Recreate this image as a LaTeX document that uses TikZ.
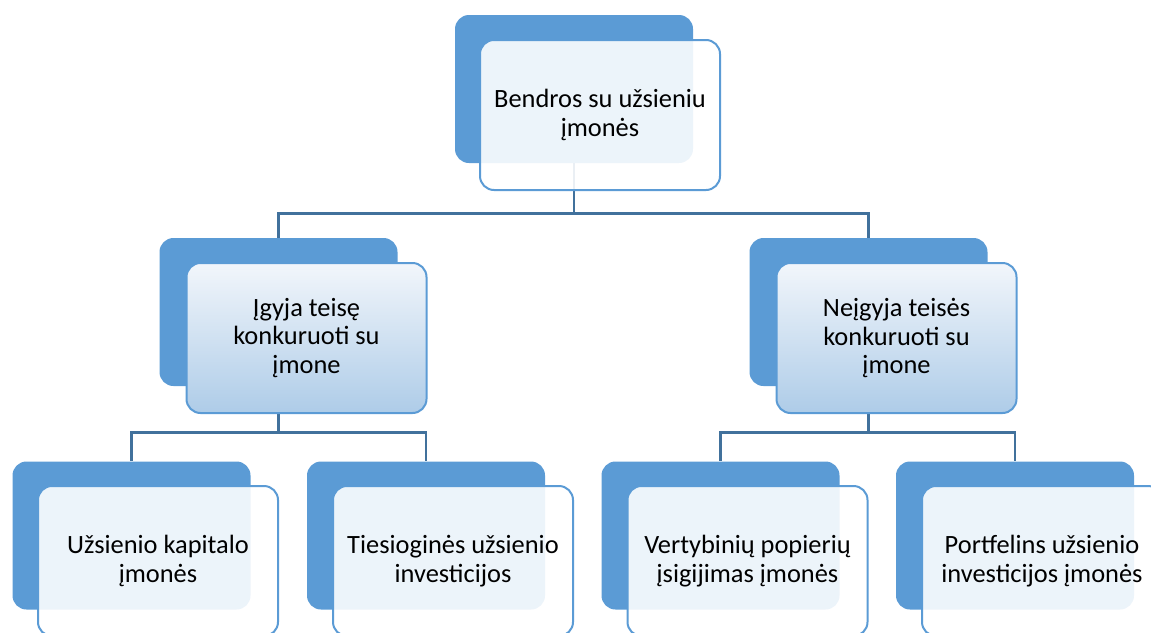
\documentclass[tikz,border=0pt]{standalone}
\usepackage{fontspec}
\setmainfont{Carlito}
\usetikzlibrary{positioning}
\definecolor{accblue}{HTML}{5B9BD5}
\definecolor{linkblue}{HTML}{41719C}
\definecolor{shadetop}{HTML}{F2F6FB}
\definecolor{shadebot}{HTML}{AECCE8}

\begin{document}
\begin{tikzpicture}[x=0.5pt,y=-0.5pt,
   back/.style={fill=accblue,rounded corners=7pt,minimum width=119pt,minimum height=74pt,inner sep=0pt},
   front/.style={draw=accblue,line width=1pt,rounded corners=7pt,minimum width=120pt,minimum height=75pt,inner sep=0pt,
     align=center,font=\fontsize{13.2}{14.3}\selectfont},
   pale/.style={front,fill=white,fill opacity=0.89,text opacity=1},
   shaded/.style={front,top color=shadetop,bottom color=shadebot},
   link/.style={linkblue,line width=1.3pt}]
   \useasboundingbox (0,0) rectangle (1151,632);
   % back boxes
   \node[back] (bk0) at (574,89) {};
   \node[back] (bk1) at (278.5,312) {};
   \node[back] (bk2) at (868.5,312) {};
   \node[back] (bk3) at (131.5,535.5) {};
   \node[back] (bk4) at (426,535.5) {};
   \node[back] (bk5) at (720.5,535.5) {};
   \node[back] (bk6) at (1015,535.5) {};
   % connectors
   \draw[link] (bk0.south) -- ++(0,50) -| (bk1.north);
   \draw[link] (bk0.south) -- ++(0,50) -| (bk2.north);
   \draw[link] (bk1.south) -- ++(0,46) -| (bk3.north);
   \draw[link] (bk1.south) -- ++(0,46) -| (bk4.north);
   \draw[link] (bk2.south) -- ++(0,46) -| (bk5.north);
   \draw[link] (bk2.south) -- ++(0,46) -| (bk6.north);
   % front boxes
   \node[pale] (fr0) at (600,115) {Bendros su užsieniu\\įmonės};
   \node[shaded] (fr1) at (306.5,338) {Įgyja teisę\\konkuruoti su\\įmone};
   \node[shaded] (fr2) at (896.5,338) {Neįgyja teisės\\konkuruoti su\\įmone};
   \node[pale] (fr3) at (158,561) {Užsienio kapitalo\\įmonės};
   \node[pale] (fr4) at (453,561) {Tiesioginės užsienio\\investicijos};
   \node[pale] (fr5) at (747.5,561) {Vertybinių popierių\\įsigijimas įmonės};
   \node[pale] (fr6) at (1042,561) {Portfelins užsienio\\investicijos įmonės};
\end{tikzpicture}
\end{document}
